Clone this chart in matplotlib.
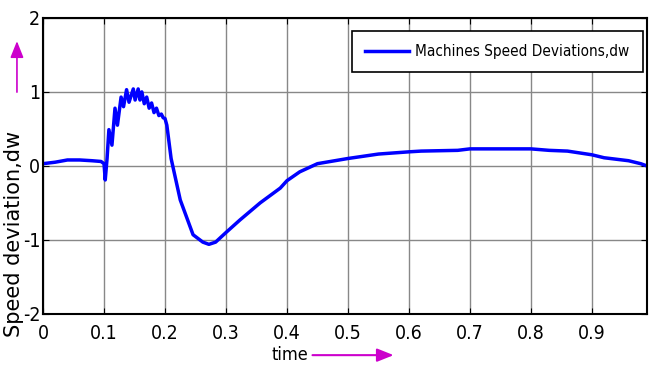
import matplotlib
matplotlib.use('Agg')
import matplotlib.pyplot as plt
from matplotlib.patches import FancyArrowPatch

# Speed deviation data
time = [0.0, 0.02, 0.04, 0.06, 0.08, 0.095, 0.1, 0.102, 0.105, 0.108, 0.113, 0.118,
        0.122, 0.128, 0.132, 0.137, 0.141, 0.148, 0.151, 0.156, 0.159, 0.162, 0.166,
        0.17, 0.174, 0.178, 0.182, 0.186, 0.19, 0.194, 0.197, 0.2, 0.203, 0.21,
        0.225, 0.246, 0.262, 0.272, 0.283, 0.3, 0.323, 0.356, 0.389, 0.4, 0.421,
        0.45, 0.5, 0.55, 0.6, 0.62, 0.68, 0.7, 0.8, 0.83, 0.86, 0.9, 0.92, 0.96,
        0.98, 0.99]
dw = [0.03, 0.05, 0.08, 0.08, 0.07, 0.06, 0.03, -0.19, 0.1, 0.49, 0.28, 0.78,
      0.55, 0.93, 0.8, 1.03, 0.86, 1.04, 0.89, 1.04, 0.89, 1.0, 0.84, 0.93,
      0.78, 0.85, 0.72, 0.78, 0.68, 0.7, 0.65, 0.64, 0.55, 0.1,
      -0.46, -0.93, -1.03, -1.06, -1.03, -0.9, -0.73, -0.5, -0.3, -0.2, -0.08,
      0.03, 0.1, 0.16, 0.19, 0.2, 0.21, 0.23, 0.23, 0.21, 0.2, 0.15, 0.11, 0.07,
      0.03, 0.0]

xticks = [0, 0.1, 0.2, 0.3, 0.4, 0.5, 0.6, 0.7, 0.8, 0.9]
xticklabels = ['0', '0.1', '0.2', '0.3', '0.4', '0.5', '0.6', '0.7', '0.8', '0.9']
yticks = [-2, -1, 0, 1, 2]
yticklabels = ['-2', '-1', '0', '1', '2']

plt.rcParams['font.family'] = ['DejaVu Sans']
plt.rcParams['font.stretch'] = 'condensed'
plt.rcParams['axes.unicode_minus'] = False

fig = plt.figure(figsize=(6.52, 3.65), dpi=100)
ax = fig.add_axes([0.066, 0.140, 0.926, 0.811])

ax.plot(time, dw, color='#0000ff', linewidth=2.5, label='Machines Speed Deviations,dw')

ax.set_xlim(0, 0.99)
ax.set_ylim(-2, 2)
ax.set_xticks(xticks)
ax.set_xticklabels(xticklabels)
ax.set_yticks(yticks)
ax.set_yticklabels(yticklabels)
ax.tick_params(direction='in', top=True, right=True, labelsize=14, length=4, pad=7)
ax.tick_params(axis='y', pad=2)
ax.grid(True, color='#888888', linewidth=1.0)
for s in ax.spines.values():
    s.set_linewidth(1.5)

leg = ax.legend(loc='upper right', fontsize=11, fancybox=False, framealpha=1,
                edgecolor='black', handlelength=2.9, borderpad=0.85,
                handletextpad=0.4, borderaxespad=0, bbox_to_anchor=(0.993, 0.956))
leg.get_frame().set_linewidth(1.2)

# Axis labels and magenta arrows
fig.text(0.021, 0.36, 'Speed deviation,dw', rotation=90, fontsize=15,
         ha='center', va='center', stretch='normal')
fig.text(0.445, 0.027, 'time', fontsize=13, ha='center', va='center')
fig.patches.append(FancyArrowPatch(
    (0.026, 0.74), (0.026, 0.895), transform=fig.transFigure,
    arrowstyle='-|>,head_length=10,head_width=4', color='#cc00cc', linewidth=1.2))
fig.patches.append(FancyArrowPatch(
    (0.475, 0.027), (0.608, 0.027), transform=fig.transFigure,
    arrowstyle='-|>,head_length=10,head_width=4', color='#cc00cc', linewidth=1.5))

fig.savefig('out.png', dpi=100)
